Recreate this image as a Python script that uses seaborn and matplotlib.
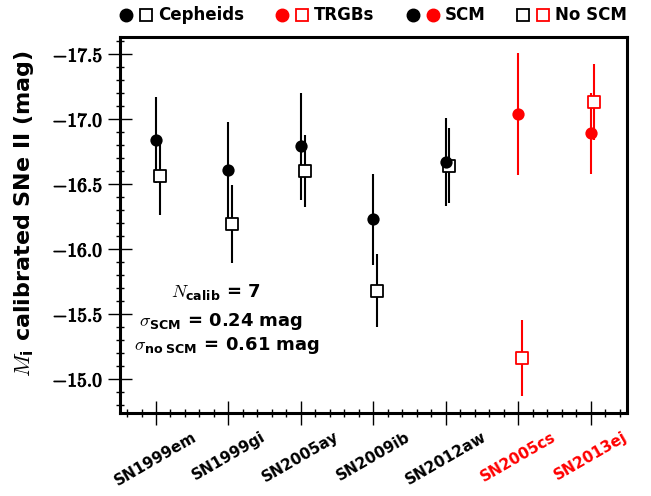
import numpy as np
import pandas as pd
import matplotlib
matplotlib.use('Agg')
import matplotlib.pyplot as plt
import matplotlib.patheffects as pe
import seaborn as sns
from matplotlib.lines import Line2D
from matplotlib.legend_handler import HandlerTuple
from matplotlib.ticker import MultipleLocator, FuncFormatter

## datos
names = ['SN1999em', 'SN1999gi', 'SN2005ay', 'SN2009ib', 'SN2012aw', 'SN2005cs', 'SN2013ej']
method = ['Cepheid'] * 5 + ['TRGB'] * 2
m_scm = [-16.84, -16.61, -16.79, -16.23, -16.67, -17.04, -16.89]
e_scm = [0.33, 0.37, 0.41, 0.35, 0.34, 0.47, 0.31]
m_noscm = [-16.56, -16.19, -16.60, -15.68, -16.64, -15.16, -17.13]
e_noscm = [0.30, 0.30, 0.28, 0.28, 0.29, 0.29, 0.29]

sns.set_style('ticks')
plt.rcParams['font.family'] = 'DejaVu Sans'
plt.rcParams['font.weight'] = 'bold'
plt.rcParams['text.color'] = 'black'
plt.rcParams['axes.labelcolor'] = 'black'
plt.rcParams['xtick.color'] = 'black'
plt.rcParams['ytick.color'] = 'black'
plt.rcParams['mathtext.fontset'] = 'cm'
plt.rcParams['mathtext.rm'] = 'DejaVu Sans:bold'
plt.rcParams['mathtext.sf'] = 'DejaVu Sans:bold'
plt.rcParams['mathtext.it'] = 'cmmi10'
plt.rcParams['mathtext.bf'] = 'cmb10'
plt.rcParams['mathtext.fallback'] = 'cm'

df = pd.DataFrame({'name': names, 'method': method,
                   'M_scm': m_scm, 'e_scm': e_scm,
                   'M_no': m_noscm, 'e_no': e_noscm})
df['pos'] = np.arange(len(df))
df['pos_no'] = df['pos'] + 0.05
palette = {'Cepheid': 'black', 'TRGB': 'red'}

fig, ax = plt.subplots(figsize=(6.51, 4.96), dpi=100)
fig.subplots_adjust(left=0.184, right=0.963, bottom=0.168, top=0.925)

for meth, col in palette.items():
    sub = df[df['method'] == meth]
    ax.errorbar(sub['pos'], sub['M_scm'], yerr=sub['e_scm'], fmt='none',
                ecolor=col, elinewidth=1.5, capsize=0, zorder=2)
    ax.errorbar(sub['pos_no'], sub['M_no'], yerr=sub['e_no'], fmt='none',
                ecolor=col, elinewidth=1.5, capsize=0, zorder=2)
    sns.scatterplot(data=sub, x='pos_no', y='M_no', marker='s', s=80,
                    color='white', edgecolor=col, linewidth=1.3, ax=ax,
                    zorder=3, legend=False)
    sns.scatterplot(data=sub, x='pos', y='M_scm', marker='o', s=78,
                    color=col, edgecolor=col, linewidth=0, ax=ax,
                    zorder=4, legend=False)

ax.set_xlim(-0.5, 6.5)
ax.set_ylim(-14.74, -17.63)
ax.set_xticks(df['pos'])
ax.set_xticklabels(names, rotation=30, ha='center', fontsize=11, fontweight='bold')
for lab, meth in zip(ax.get_xticklabels(), method):
    lab.set_color(palette[meth])
ax.xaxis.set_minor_locator(MultipleLocator(0.2))
ax.yaxis.set_major_locator(MultipleLocator(0.5))
ax.yaxis.set_minor_locator(MultipleLocator(0.1))
ax.yaxis.set_major_formatter(FuncFormatter(lambda v, p: r'$\mathbf{%.1f}$' % v))
ax.tick_params(axis='y', labelsize=14)
ax.tick_params(which='major', direction='inout', length=17, width=1, color='black',
               top=False, right=False)
ax.tick_params(which='minor', direction='inout', length=6, width=1, color='black',
               top=False, right=False)
for sp in ax.spines.values():
    sp.set_linewidth(2.2)
    sp.set_color('black')

ax.set_xlabel('')
ax.set_ylabel(r'$M_{\rm i}$ calibrated SNe II (mag)', fontsize=16,
              fontweight='bold', math_fontfamily='custom')
ax.yaxis.set_label_coords(-0.165, 0.53)

ax.text(0.83, -15.66, r'$N_{\rm calib}$ = 7', ha='center', va='center',
        fontsize=13, fontweight='bold', math_fontfamily='custom')
ax.text(0.90, -15.44, r'$\sigma_{\rm SCM}$ = 0.24 mag', ha='center', va='center',
        fontsize=13, fontweight='bold', math_fontfamily='custom')
ax.text(0.98, -15.26, r'$\sigma_{\rm no\ SCM}$ = 0.61 mag', ha='center', va='center',
        fontsize=13, fontweight='bold', math_fontfamily='custom')


def circ(c):
    return Line2D([], [], ls='none', marker='o', ms=9, mfc=c, mec=c)


def sq(c):
    return Line2D([], [], ls='none', marker='s', ms=8.5, mfc='white', mec=c, mew=1.3)


handles = [(circ('black'), sq('black')), (circ('red'), sq('red')),
           (circ('black'), circ('red')), (sq('black'), sq('red'))]
labels = ['Cepheids', 'TRGBs', 'SCM', 'No SCM']
ax.legend(handles, labels, handler_map={tuple: HandlerTuple(ndivide=None, pad=0.4)},
          ncol=4, mode='expand', loc='center left', bbox_to_anchor=(0, 1.058, 1, 0),
          frameon=False, borderpad=0, borderaxespad=0, handlelength=2.0,
          handletextpad=0.3, prop={'size': 12, 'weight': 'bold'})

fig.canvas.draw()
for lab in ax.get_yticklabels():
    lab.set_path_effects([pe.withStroke(linewidth=0.7, foreground='black')])

fig.savefig('out.png', dpi=100)
